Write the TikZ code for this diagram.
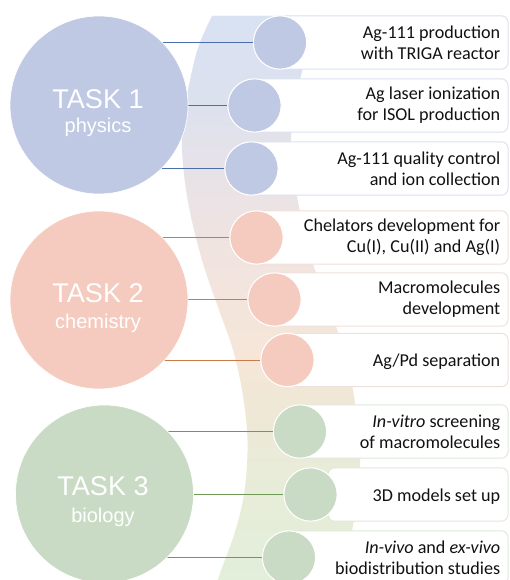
\documentclass[tikz,border=0pt]{standalone}
\usepackage{fontspec}
\setmainfont{Carlito}
\newfontfamily\headfont{Liberation Sans}

% circle fills
\definecolor{physfill}{HTML}{BFC9E3}
\definecolor{chemfill}{HTML}{F5CBBF}
\definecolor{biofill}{HTML}{C9DBC4}
% connector colours
\definecolor{physline}{HTML}{4A6DB0}
\definecolor{chemline}{HTML}{C97B4A}
\definecolor{bioline}{HTML}{6F9A55}
% box outlines
\definecolor{physedge}{HTML}{DCE1EE}
\definecolor{chemedge}{HTML}{F0E0DA}
\definecolor{bioedge}{HTML}{DFE8DA}
% band gradient stops
\definecolor{bandA}{HTML}{D9E2F3}
\definecolor{bandB}{HTML}{DCE1EE}
\definecolor{bandC}{HTML}{E4E2EA}
\definecolor{bandD}{HTML}{EEE3E3}
\definecolor{bandE}{HTML}{F4E5DC}
\definecolor{bandF}{HTML}{F5E6D8}
\definecolor{bandG}{HTML}{EFE8D6}
\definecolor{bandH}{HTML}{E8ECD9}
\definecolor{bandI}{HTML}{E2EFDA}
\definecolor{txt}{HTML}{111111}

\begin{document}
\begin{tikzpicture}[x=0.75pt,y=-0.75pt,
  bigcirc/.style={circle, draw=white, line width=0.5pt, minimum size=133.5pt, inner sep=0pt},
  smallcirc/.style={circle, draw=white, line width=0.8pt, minimum size=40pt, inner sep=0pt},
  tasktitle/.style={anchor=base, text=white, font=\headfont\fontsize{20.3}{24}\selectfont},
  tasksub/.style={anchor=base, text=white, font=\headfont\fontsize{15}{18}\selectfont},
  itembox/.style={fill=white, line width=0.75pt, rounded corners=5pt},
  itemtext/.style={anchor=east, align=right, text=txt, inner sep=0pt,
                   font=\fontsize{13.6}{15.6}\selectfont},
  link/.style={line width=0.75pt}]

\useasboundingbox (0,0) rectangle (509,580);

% curved background band with a vertical colour run
\begin{scope}
  \clip plot[smooth, tension=0.6] coordinates {(212,16) (199,45) (190,80) (183,120) (182,150)
      (186,190) (194,230) (205,270) (219,310) (233,350) (242,390) (247,430) (247,465)
      (243,500) (234,535) (223,565) (216,585)}
    -- plot[smooth, tension=0.6] coordinates {(335,585) (342,565) (351,535) (357,500)
      (360,465) (358,430) (353,390) (344,350) (330,310) (315,270) (304,230) (296,190)
      (291,150) (293,120) (300,80) (310,45) (322,16)} -- cycle;
  \fill[bandA] (150,0) rectangle (420,16.5);
  \shade[top color=bandA, bottom color=bandB] (150,16) rectangle (420,100.5);
  \shade[top color=bandB, bottom color=bandC] (150,100) rectangle (420,150.5);
  \shade[top color=bandC, bottom color=bandD] (150,150) rectangle (420,220.5);
  \shade[top color=bandD, bottom color=bandE] (150,220) rectangle (420,300.5);
  \shade[top color=bandE, bottom color=bandF] (150,300) rectangle (420,360.5);
  \shade[top color=bandF, bottom color=bandG] (150,360) rectangle (420,410.5);
  \shade[top color=bandG, bottom color=bandH] (150,410) rectangle (420,470.5);
  \shade[top color=bandH, bottom color=bandI] (150,470) rectangle (420,590);
\end{scope}

% item boxes
\path[itembox, draw=physedge] (280,15.8) rectangle (508,69.2);
\path[itembox, draw=physedge] (254.5,78.8) rectangle (508,132.2);
\path[itembox, draw=physedge] (251.5,141.8) rectangle (508,195.2);
\path[itembox, draw=chemedge] (256.5,210.8) rectangle (508,264.2);
\path[itembox, draw=chemedge] (274.5,272.8) rectangle (508,326.2);
\path[itembox, draw=chemedge] (287.5,333.3) rectangle (508,386.7);
\path[itembox, draw=bioedge] (300,404.8) rectangle (508,458.2);
\path[itembox, draw=bioedge] (328,467.8) rectangle (508,521.2);
\path[itembox, draw=bioedge] (289,530.8) rectangle (508,584.2);

% sub-task circles
\node[smallcirc, fill=physfill] (c1) at (280,42.5) {};
\node[smallcirc, fill=physfill] (c2) at (254.5,105.5) {};
\node[smallcirc, fill=physfill] (c3) at (251.5,168.5) {};
\node[smallcirc, fill=chemfill] (c4) at (256.5,237.5) {};
\node[smallcirc, fill=chemfill] (c5) at (274.5,299.5) {};
\node[smallcirc, fill=chemfill] (c6) at (287.5,360) {};
\node[smallcirc, fill=biofill] (c7) at (300,431.5) {};
\node[smallcirc, fill=biofill] (c8) at (310.5,494.5) {};
\node[smallcirc, fill=biofill] (c9) at (289,557.5) {};

% task circle positions
\coordinate (p1) at (99,105);
\coordinate (p2) at (99,300);
\coordinate (p3) at (104.5,494);

% connectors, started at the task centres so the circles cover their inner part
\draw[link, physline] (p1 |- c1) -- (c1.west);
\draw[link, physline] (p1 |- c2) -- (c2.west);
\draw[link, physline] (p1 |- c3) -- (c3.west);
\draw[link, chemline] (p2 |- c4) -- (c4.west);
\draw[link, chemline] (p2 |- c5) -- (c5.west);
\draw[link, chemline] (p2 |- c6) -- (c6.west);
\draw[link, bioline] (p3 |- c7) -- (c7.west);
\draw[link, bioline] (p3 |- c8) -- (c8.west);
\draw[link, bioline] (p3 |- c9) -- (c9.west);

% task circles
\node[bigcirc, fill=physfill] (t1) at (p1) {};
\node[bigcirc, fill=chemfill] (t2) at (p2) {};
\node[bigcirc, fill=biofill] (t3) at (p3) {};

\node[tasktitle] (h1) at (98,108.5) {TASK 1};
\node[tasksub]   (s1) at (98,133) {physics};
\node[tasktitle] (h2) at (98,302) {TASK 2};
\node[tasksub]   (s2) at (98,328) {chemistry};
\node[tasktitle] (h3) at (103,495) {TASK 3};
\node[tasksub]   (s3) at (103,522) {biology};

% item texts
\node[itemtext] (l1) at (500.5,42.5) {Ag-111 production\\with TRIGA reactor};
\node[itemtext] (l2) at (500.5,105.5) {Ag laser ionization\\for ISOL production};
\node[itemtext] (l3) at (500.5,168.5) {Ag-111 quality control\\and ion collection};
\node[itemtext] (l4) at (500.5,237.5) {Chelators development for\\Cu(I), Cu(II) and Ag(I)};
\node[itemtext] (l5) at (500.5,299.5) {Macromolecules\\development};
\node[itemtext] (l6) at (500.5,362) {Ag/Pd separation};
\node[itemtext] (l7) at (500.5,431.5) {\textit{In-vitro} screening\\of macromolecules};
\node[itemtext] (l8) at (500.5,496.5) {3D models set up};
\node[itemtext] (l9) at (500.5,557.5) {\textit{In-vivo} and \textit{ex-vivo}\\biodistribution studies};
\end{tikzpicture}
\end{document}
